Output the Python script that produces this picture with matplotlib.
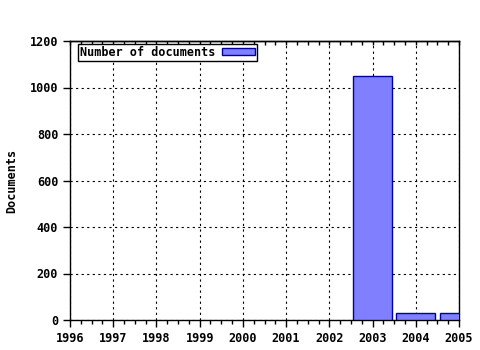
import matplotlib
matplotlib.use("Agg")
import matplotlib.pyplot as plt
from matplotlib.ticker import MultipleLocator

years = [2003, 2004, 2005]
docs = [1048, 30, 30]
xticks = list(range(1996, 2006))
yticks = [0, 200, 400, 600, 800, 1000, 1200]

plt.rcParams['font.family'] = ['DejaVu Sans Mono']
plt.rcParams['font.weight'] = 'bold'

fig = plt.figure(figsize=(4.8, 3.5), dpi=100)
ax = fig.add_axes([70/480, 1-320/350, 389/480, 279/350])

ax.bar(years, docs, width=0.9, color='#8080ff', edgecolor='#0000a0', linewidth=1,
       label='Number of documents', zorder=3)
ax.set_xlim(1996, 2005)
ax.set_ylim(0, 1200)
ax.set_xticks(xticks)
ax.set_xticklabels([str(y) for y in xticks])
ax.set_yticks(yticks)
ax.xaxis.set_minor_locator(MultipleLocator(0.25))
ax.tick_params(axis='both', which='major', direction='out', length=5, width=1,
               labelsize=8.5, top=False, right=False)
ax.tick_params(axis='x', which='minor', direction='out', length=3, width=1, top=False)
ax.tick_params(axis='x', which='major', pad=4)
for lbl in ax.get_xticklabels() + ax.get_yticklabels():
    lbl.set_fontweight('bold')

top = ax.secondary_xaxis('top')
top.set_xticks(xticks)
top.xaxis.set_minor_locator(MultipleLocator(0.25))
top.tick_params(axis='x', which='both', direction='in', length=3, width=1, labeltop=False)
top.spines['top'].set_linewidth(1)

ax.grid(True, which='major', linestyle=(0, (2, 3)), color='black', linewidth=0.8, zorder=0)
for s in ax.spines.values():
    s.set_linewidth(1)
ax.set_ylabel('Documents', fontsize=8.5, fontweight='bold', labelpad=8)

leg = ax.legend(loc='upper left', bbox_to_anchor=(8/389, 1-3/279), borderaxespad=0,
                markerfirst=False, frameon=True, fancybox=False, borderpad=0.15,
                handlelength=2.8, handleheight=0.6, handletextpad=0.6,
                prop={'size': 8.5, 'weight': 'bold'})
leg.get_frame().set_edgecolor('black')
leg.get_frame().set_linewidth(1)
leg.get_frame().set_alpha(1)

fig.savefig('out.png', dpi=100)
